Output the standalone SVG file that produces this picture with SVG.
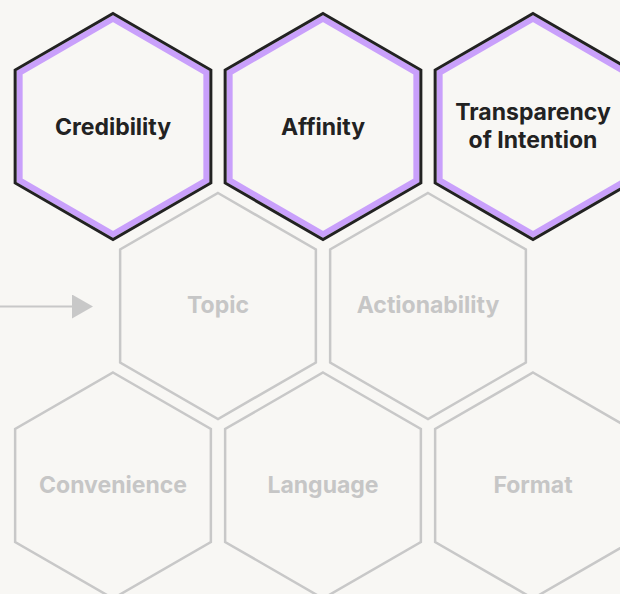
<svg xmlns="http://www.w3.org/2000/svg" xmlns:xlink="http://www.w3.org/1999/xlink" width="620" height="594" viewBox="0 0 620 594">
<style>
.lbl{font-family:Inter,"Liberation Sans",Arial,sans-serif;font-weight:700;font-size:23px;text-anchor:middle}
.dark{fill:#222222}
.muted{fill:#c6c6c6}
.hexblack{fill:none;stroke:#222222;stroke-width:3;stroke-linejoin:miter}
.hexpurple{fill:none;stroke:#c9a0fb;stroke-width:6;stroke-linejoin:miter}
.hexgray{fill:none;stroke:#c8c8c8;stroke-width:2.5;stroke-linejoin:miter}
.conn{stroke:#c8c8c8;stroke-width:2;fill:none}
</style>
<defs>
<polygon id="hex" points="0,-113 97.86,-56.5 97.86,56.5 0,113 -97.86,56.5 -97.86,-56.5"/>
<polygon id="hexIn" points="0,-107.8 93.36,-53.9 93.36,53.9 0,107.8 -93.36,53.9 -93.36,-53.9"/>
<marker id="arrow" viewBox="0 0 21 24" refX="0" refY="12" markerWidth="21" markerHeight="24" markerUnits="userSpaceOnUse" orient="auto">
<path d="M0,0 L21,12 L0,24 Z" fill="#c8c8c8"/>
</marker>
</defs>
<rect width="620" height="594" fill="#f8f7f4"/>
<g id="connectors">
<line class="conn" x1="0" y1="306.5" x2="72" y2="306.5" marker-end="url(#arrow)"/>
</g>
<g id="credibility" transform="translate(113,126.5)">
<use href="#hexIn" class="hexpurple"/>
<use href="#hex" class="hexblack"/>
<text class="lbl dark" x="0" y="8">Credibility</text>
</g>
<g id="affinity" transform="translate(323,126.5)">
<use href="#hexIn" class="hexpurple"/>
<use href="#hex" class="hexblack"/>
<text class="lbl dark" x="0" y="8">Affinity</text>
</g>
<g id="transparency" transform="translate(533,126.5)">
<use href="#hexIn" class="hexpurple"/>
<use href="#hex" class="hexblack"/>
<text class="lbl dark" x="0" y="-7">Transparency</text>
<text class="lbl dark" x="0" y="21">of Intention</text>
</g>
<g id="topic" transform="translate(218,306)">
<use href="#hex" class="hexgray"/>
<text class="lbl muted" x="0" y="7">Topic</text>
</g>
<g id="actionability" transform="translate(428,306)">
<use href="#hex" class="hexgray"/>
<text class="lbl muted" x="0" y="7">Actionability</text>
</g>
<g id="convenience" transform="translate(113,485.5)">
<use href="#hex" class="hexgray"/>
<text class="lbl muted" x="0" y="7.5">Convenience</text>
</g>
<g id="language" transform="translate(323,485.5)">
<use href="#hex" class="hexgray"/>
<text class="lbl muted" x="0" y="7.5">Language</text>
</g>
<g id="format" transform="translate(533,485.5)">
<use href="#hex" class="hexgray"/>
<text class="lbl muted" x="0" y="7.5">Format</text>
</g>
</svg>
